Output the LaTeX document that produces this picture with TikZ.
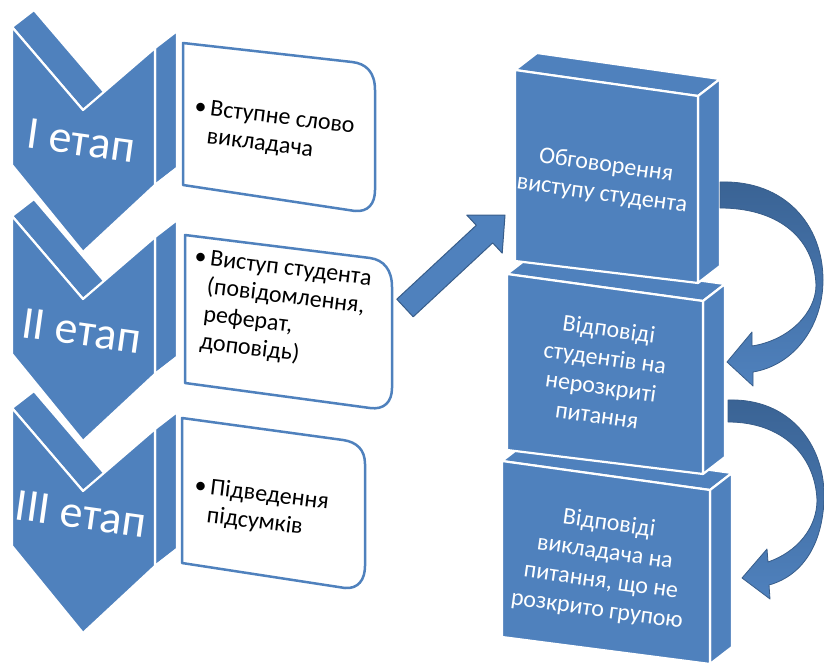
\documentclass[tikz,border=0pt]{standalone}
\usepackage{fontspec}
\setmainfont{Carlito}
\definecolor{acc}{HTML}{4F81BD}
\definecolor{accd}{HTML}{385D8A}
\definecolor{accdk}{HTML}{3A6394}
\begin{document}
\begin{tikzpicture}[x=1pt,y=-1pt,
  face/.style={fill=acc, draw=white, line width=2.2pt, line join=round},
  tbox/.style={fill=white, draw=acc, line width=2.5pt, line join=round},
  stagetxt/.style={text=white, font=\fontsize{46}{54}\selectfont, inner sep=0pt, rotate=-8},
  boxtxt/.style={text=black, font=\fontsize{24}{28}\selectfont, inner sep=0pt, anchor=north west, rotate=-7},
  blocktxt/.style={text=white, font=\fontsize{24}{29}\selectfont, inner sep=0pt, align=center, rotate=-8},
  blockarrow/.style={fill=acc, draw=accd, line width=1pt, line join=round},
  curvedarrow/.style={top color=accdk, bottom color=acc, draw=accd, line width=0.8pt, line join=round},
]
\useasboundingbox (0,0) rectangle (824,666);

% ---------- chevrons ----------
\foreach \dy in {0,189,381}{
  \begin{scope}[shift={(0,\dy)}]
    \path[face] (12,27) -- (34,10) -- (105,93) -- (83,110) -- cycle;
    \path[face] (155,48) -- (177,31) -- (177,168) -- (155,185) -- cycle;
    \path[face] (155,185) -- (177,168) -- (105,235) -- (83,252) -- cycle;
    \path[face] (12,27) -- (83,110) -- (155,48) -- (155,185) -- (83,252) -- (12,165) -- cycle;
  \end{scope}
}
\node[stagetxt] (s1) at (81,141) {I етап};
\node[stagetxt] (s2) at (82,331) {II етап};
\node[stagetxt] (s3) at (81,514) {III етап};

% ---------- text boxes ----------
\draw[tbox] (183,43) -- (352,62) .. controls (366,63.5) and (375,72) .. (375,90)
  -- (375,190) .. controls (375,204) and (368,212) .. (355,211) -- (183,185) -- cycle;
\draw[tbox] (185,235) -- (370,258) .. controls (384,260) and (392,270) .. (392,287)
  -- (392,388) .. controls (392,402) and (384,410) .. (370,408) -- (185,383) -- cycle;
\draw[tbox] (182,418) -- (343,440) .. controls (357,442) and (365,450) .. (365,464)
  -- (365,566) .. controls (365,580) and (358,589) .. (345,588) -- (182,563) -- cycle;

\node[boxtxt] (t1) at (196,94) {\begin{tabular}{@{}l@{\hspace{4pt}}l@{}}•&Вступне слово\\&викладача\end{tabular}};
\node[boxtxt] (t2) at (196,244) {\begin{tabular}{@{}l@{\hspace{4pt}}l@{}}•&Виступ студента\\&(повідомлення,\\&реферат,\\&доповідь)\end{tabular}};
\node[boxtxt] (t3) at (196,473) {\begin{tabular}{@{}l@{\hspace{4pt}}l@{}}•&Підведення\\&підсумків\end{tabular}};

% ---------- 3D blocks (bottom first) ----------
\path[face] (502,461) -- (524,444) -- (732,473) -- (710,490) -- cycle;
\path[face] (710,490) -- (732,473) -- (732,647) -- (710,664) -- cycle;
\path[face] (502,461) -- (710,490) -- (710,664) -- (502,637) -- cycle;

\path[face] (507,274) -- (529,257) -- (725,284) -- (703,301) -- cycle;
\path[face] (703,301) -- (725,284) -- (725,457) -- (703,474) -- cycle;
\path[face] (507,274) -- (703,301) -- (703,474) -- (507,450) -- cycle;

\path[face] (515,70) -- (537,53) -- (720,79) -- (698,96) -- cycle;
\path[face] (698,96) -- (720,79) -- (720,266) -- (698,283) -- cycle;
\path[face] (515,70) -- (698,96) -- (698,283) -- (515,261) -- cycle;

\node[blocktxt] (b1) at (604,180) {Обговорення\\виступу студента};
\node[blocktxt] (b2) at (603,372) {Відповіді\\студентів на\\нерозкриті\\питання};
\node[blocktxt] (b3) at (603,567) {Відповіді\\викладача на\\питання, що не\\розкрито групою};

% ---------- straight block arrow ----------
\draw[blockarrow] (396.8,299.2) -- (476.3,225.3) -- (466.8,215.1) -- (505,215)
  -- (502.2,253.1) -- (492.7,242.9) -- (413.2,316.8) -- cycle;

% ---------- curved arrows ----------
\draw[curvedarrow] (720,182) .. controls (785,180) and (823,225) .. (823,280)
  .. controls (823,325) and (795,365) .. (753,372) -- (753,386) -- (727,362)
  -- (752,332) -- (752,346) .. controls (790,340) and (816,312) .. (816,285)
  .. controls (814,235) and (775,208) .. (720,208) -- cycle;
\draw[curvedarrow] (728,400) .. controls (790,398) and (824,445) .. (824,495)
  .. controls (824,540) and (805,575) .. (769,585) -- (770,599) -- (742,578)
  -- (767,549) -- (768,562) .. controls (797,552) and (817,528) .. (817,500)
  .. controls (815,455) and (782,422) .. (728,422) -- cycle;
\end{tikzpicture}
\end{document}
